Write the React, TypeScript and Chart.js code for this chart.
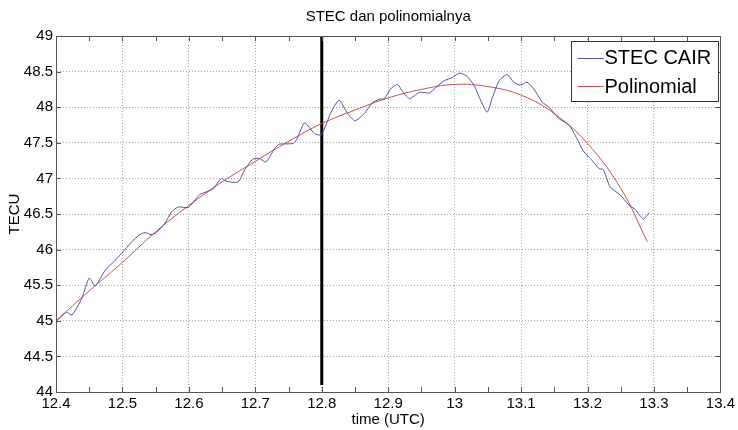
import { useEffect, useRef } from 'react';
import { Chart, registerables } from 'chart.js';

Chart.register(...registerables);

// Measured slant TEC from station CAIR (time in decimal hours UTC)
const TIME_UTC = [
  12.401, 12.416, 12.424, 12.439, 12.45, 12.459, 12.474, 12.487, 12.499, 12.514,
  12.526, 12.534, 12.543, 12.551, 12.564, 12.574, 12.584, 12.599, 12.616, 12.626,
  12.636, 12.649, 12.656, 12.674, 12.684, 12.696, 12.706, 12.716, 12.729, 12.736,
  12.759, 12.774, 12.789, 12.799, 12.805, 12.814, 12.826, 12.839, 12.85, 12.864,
  12.876, 12.886, 12.894, 12.904, 12.914, 12.921, 12.932, 12.947, 12.962, 12.972,
  12.984, 12.997, 13.008, 13.019, 13.029, 13.039, 13.049, 13.057, 13.067, 13.079,
  13.089, 13.099, 13.109, 13.119, 13.132, 13.142, 13.157, 13.172, 13.184, 13.194,
  13.207, 13.217, 13.224, 13.234, 13.249, 13.262, 13.272, 13.284, 13.293,
];
const STEC_CAIR = [
  45.0, 45.12, 45.08, 45.32, 45.6, 45.49, 45.71, 45.83, 45.95, 46.11,
  46.21, 46.24, 46.21, 46.24, 46.37, 46.53, 46.6, 46.59, 46.77, 46.81,
  46.85, 47.0, 46.96, 46.95, 47.12, 47.27, 47.28, 47.23, 47.42, 47.48,
  47.5, 47.78, 47.63, 47.61, 47.72, 47.93, 48.1, 47.91, 47.81, 47.91,
  48.06, 48.11, 48.12, 48.26, 48.32, 48.23, 48.12, 48.21, 48.2, 48.28,
  48.37, 48.42, 48.48, 48.43, 48.31, 48.1, 47.93, 48.14, 48.37, 48.46,
  48.35, 48.31, 48.35, 48.26, 48.07, 48.0, 47.84, 47.75, 47.56, 47.38,
  47.25, 47.14, 47.12, 46.88, 46.77, 46.63, 46.56, 46.43, 46.52,
];

// Fitted polynomial trend
const POLY_TIME = [
  12.4, 12.45, 12.5, 12.55, 12.6, 12.65, 12.7, 12.75, 12.8, 12.85,
  12.9, 12.95, 13.0, 13.05, 13.1, 13.15, 13.2, 13.25, 13.29,
];
const POLY_TECU = [
  45.0, 45.42, 45.82, 46.25, 46.62, 46.95, 47.24, 47.52, 47.77, 47.96,
  48.13, 48.25, 48.32, 48.29, 48.17, 47.91, 47.49, 46.86, 46.11,
];

const X_TICKS = [12.4, 12.5, 12.6, 12.7, 12.8, 12.9, 13.0, 13.1, 13.2, 13.3, 13.4];
const Y_TICKS = [44, 44.5, 45, 45.5, 46, 46.5, 47, 47.5, 48, 48.5, 49];

// Vertical marker at 12.8 UTC
const MARKER_TIME = 12.8;
const MARKER_TECU = [44.1, 49];

const SERIES_LABELS = ['STEC CAIR', 'Polinomial'];
const SERIES_COLORS = ['#5252a6', '#c8524c'];

const FONT = "'Liberation Sans', Arial, Helvetica, sans-serif";

// Box around the axes, inward tick marks and the in-plot legend
const axesDecor = {
  id: 'axesDecor',
  afterDraw(chart: any) {
    const { ctx, chartArea: a, scales } = chart;
    const xs = scales.x;
    const ys = scales.y;
    ctx.save();
    ctx.strokeStyle = '#555555';
    ctx.lineWidth = 1;

    // tick marks on all four sides, pointing inward
    const xMarks: number[] = [];
    for (let i = 0; i < X_TICKS.length; i++) {
      xMarks.push(X_TICKS[i]);
      if (i < X_TICKS.length - 1) xMarks.push((X_TICKS[i] + X_TICKS[i + 1]) / 2);
    }
    ctx.beginPath();
    for (const v of xMarks) {
      const px = Math.round(xs.getPixelForValue(v)) + 0.5;
      ctx.moveTo(px, a.bottom);
      ctx.lineTo(px, a.bottom - 5);
      ctx.moveTo(px, a.top);
      ctx.lineTo(px, a.top + 5);
    }
    for (const v of Y_TICKS) {
      const py = Math.round(ys.getPixelForValue(v)) + 0.5;
      ctx.moveTo(a.left, py);
      ctx.lineTo(a.left + 5, py);
      ctx.moveTo(a.right, py);
      ctx.lineTo(a.right - 5, py);
    }
    ctx.stroke();

    ctx.strokeRect(Math.round(a.left) + 0.5, Math.round(a.top) + 0.5,
      Math.round(a.right - a.left), Math.round(a.bottom - a.top));

    // legend
    const bw = 147;
    const bh = 60;
    const bx = Math.round(a.right) - 149 + 0.5;
    const by = Math.round(a.top) + 5 + 0.5;
    ctx.fillStyle = '#ffffff';
    ctx.fillRect(bx, by, bw, bh);
    ctx.strokeStyle = '#333333';
    ctx.strokeRect(bx, by, bw, bh);
    ctx.font = `20px ${FONT}`;
    ctx.textBaseline = 'middle';
    ctx.textAlign = 'left';
    SERIES_LABELS.forEach((label, i) => {
      const ly = by + 16 + i * 28.5;
      ctx.strokeStyle = SERIES_COLORS[i];
      ctx.beginPath();
      ctx.moveTo(bx + 6, Math.round(ly) + 0.5);
      ctx.lineTo(bx + 32, Math.round(ly) + 0.5);
      ctx.stroke();
      ctx.fillStyle = '#000000';
      ctx.fillText(label, bx + 33, ly + 1);
    });
    ctx.restore();
  },
};

export default function App() {
  const canvasRef = useRef<HTMLCanvasElement | null>(null);

  useEffect(() => {
    document.body.style.margin = '0';
    const canvas = canvasRef.current;
    if (!canvas) return;

    const stec = TIME_UTC.map((t, i) => ({ x: t, y: STEC_CAIR[i] }));
    const poly = POLY_TIME.map((t, i) => ({ x: t, y: POLY_TECU[i] }));
    const marker = MARKER_TECU.map((v) => ({ x: MARKER_TIME, y: v }));

    const tickFont = { family: FONT, size: 15 };

    const chart = new Chart(canvas, {
      type: 'line',
      data: {
        datasets: [
          {
            label: SERIES_LABELS[0],
            data: stec,
            borderColor: SERIES_COLORS[0],
            borderWidth: 1,
            pointRadius: 0,
            tension: 0.2,
            fill: false,
          },
          {
            label: SERIES_LABELS[1],
            data: poly,
            borderColor: SERIES_COLORS[1],
            borderWidth: 1,
            pointRadius: 0,
            tension: 0.4,
            fill: false,
          },
          {
            label: 'marker',
            data: marker,
            borderColor: '#000000',
            borderWidth: 3,
            pointRadius: 0,
            fill: false,
          },
        ],
      },
      options: {
        responsive: false,
        animation: false,
        events: [],
        layout: { padding: { left: 0, right: 16, top: 0, bottom: 0 } },
        plugins: {
          legend: { display: false },
          tooltip: { enabled: false },
          title: {
            display: true,
            fullSize: false,
            text: 'STEC dan polinomialnya',
            color: '#000000',
            font: { family: FONT, size: 15, weight: 'normal' },
            padding: { top: 8, bottom: 10 },
          },
        },
        scales: {
          x: {
            type: 'linear',
            min: 12.4,
            max: 13.4,
            afterBuildTicks: (s: any) => {
              s.ticks = X_TICKS.map((v) => ({ value: v }));
            },
            afterFit: (s: any) => {
              s.height = 38;
            },
            ticks: {
              autoSkip: false,
              maxRotation: 0,
              color: '#000000',
              font: tickFont,
              padding: 3,
              callback: (v: any) => String(Number(v)),
            },
            grid: { color: '#a8a8a8', drawTicks: false, lineWidth: 1 },
            border: { display: true, color: '#555555', dash: [1, 2] },
            title: {
              display: true,
              text: 'time (UTC)',
              color: '#000000',
              font: { family: FONT, size: 15 },
              padding: { top: 0, bottom: 1 },
            },
          },
          y: {
            type: 'linear',
            min: 44,
            max: 49,
            afterBuildTicks: (s: any) => {
              s.ticks = Y_TICKS.map((v) => ({ value: v }));
            },
            afterFit: (s: any) => {
              s.width = 56;
            },
            ticks: {
              color: '#000000',
              font: tickFont,
              padding: 3,
              callback: (v: any) => String(Number(v)),
            },
            grid: { color: '#a8a8a8', drawTicks: false, lineWidth: 1 },
            border: { display: true, color: '#555555', dash: [1, 2] },
            title: {
              display: true,
              text: 'TECU',
              color: '#000000',
              font: { family: FONT, size: 15 },
              padding: { top: 6, bottom: 0 },
            },
          },
        },
      },
      plugins: [axesDecor],
    });

    return () => chart.destroy();
  }, []);

  return (
    <div style={{ position: 'absolute', left: 0, top: 0, width: 738, height: 430, background: '#ffffff' }}>
      <canvas ref={canvasRef} width={738} height={430} style={{ display: 'block', width: 738, height: 430 }} />
    </div>
  );
}
